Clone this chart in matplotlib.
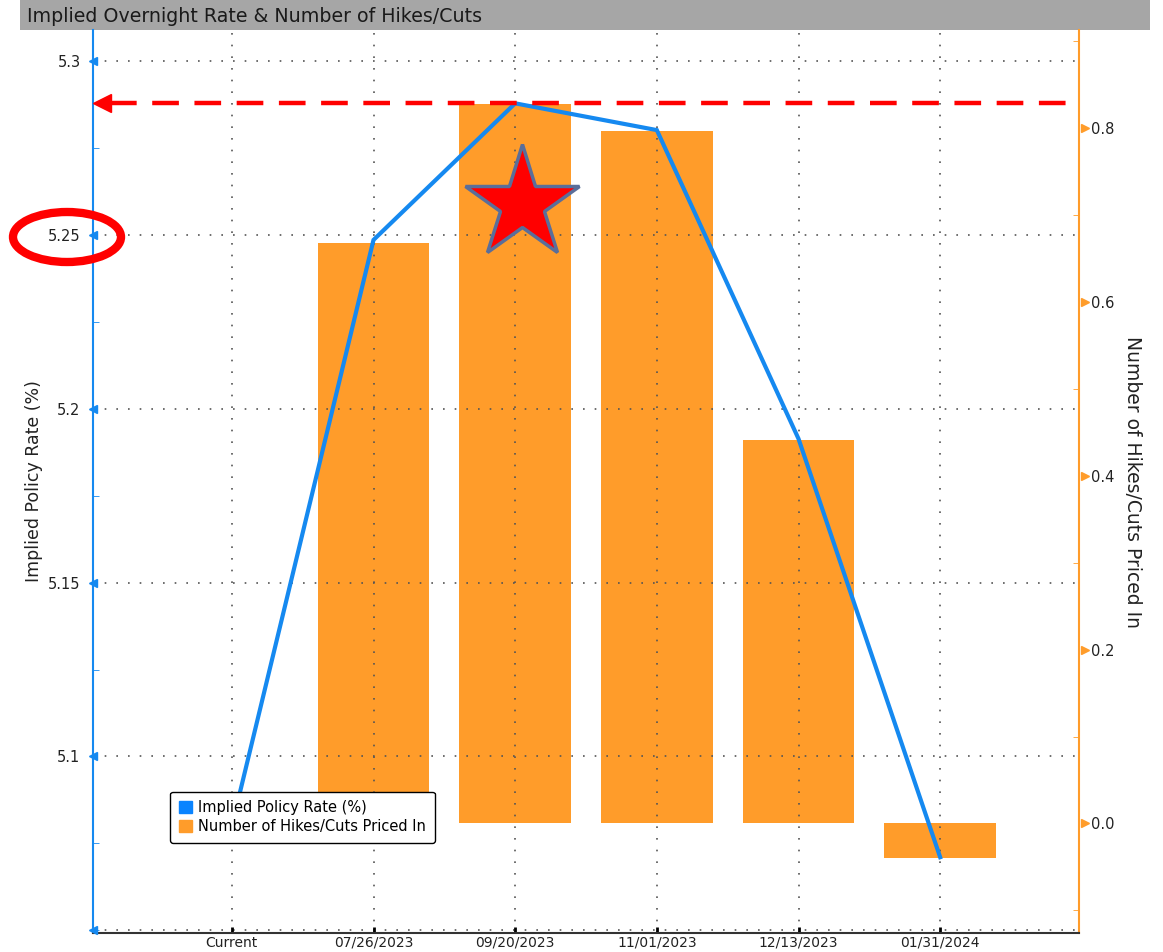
import matplotlib
matplotlib.use("Agg")
import matplotlib.pyplot as plt
from matplotlib.patches import Patch, Ellipse, Rectangle
import numpy as np

categories = ["Current", "07/26/2023", "09/20/2023", "11/01/2023", "12/13/2023", "01/31/2024"]
implied_rate = [5.080, 5.2486, 5.2879, 5.2802, 5.1914, 5.071]
hikes_cuts = [0.0, 0.668, 0.828, 0.797, 0.441, -0.040]
left_ticks = [5.1, 5.15, 5.2, 5.25, 5.3]
right_ticks = [0.0, 0.2, 0.4, 0.6, 0.8]
title = "Implied Overnight Rate & Number of Hikes/Cuts"
left_label = "Implied Policy Rate (%)"
right_label = "Number of Hikes/Cuts Priced In"
peak_level = 5.288

BLUE = "#1589F0"
ORANGE = "#FF9C2A"
W, H = 1163, 952

plt.rcParams['font.family'] = ['DejaVu Sans']
fig = plt.figure(figsize=(W / 100, H / 100), dpi=100)
fig.patch.set_facecolor("white")

l, r, b, t = 93 / W, 1079 / W, 1 - 933 / H, 1 - 30 / H
ax = fig.add_axes([l, b, r - l, t - b])
ax2 = ax.twinx()

x = np.arange(len(categories))
ax.set_xlim(-0.98, 5.98)
ax.set_ylim(5.0492, 5.309)
ax2.set_ylim(-0.126, 0.9126)

# bars on right axis
bar_x = x[1:]
ax2.bar(bar_x, hikes_cuts[1:], width=0.79, color=ORANGE, zorder=2)
ax2.set_zorder(1)
ax.set_zorder(2)
ax.patch.set_visible(False)

# line on left axis
ax.plot(x, implied_rate, color=BLUE, lw=3, zorder=5, solid_joinstyle='miter')

# grid
for xi in x:
    ax.axvline(xi, color="#555555", lw=1.2, ls=(0, (1, 6)), zorder=0)
for yv in left_ticks + [5.05]:
    ax.axhline(yv, color="#555555", lw=1.2, ls=(0, (1, 6)), zorder=0)

# ticks left
ax.set_yticks(left_ticks)
ax.set_yticklabels([f"{v:g}" for v in left_ticks], fontsize=10.5, color="#222222")
ax.set_yticks(np.arange(5.05, 5.31, 0.025), minor=True)
ax.tick_params(axis='y', which='major', length=0, pad=9)
ax.tick_params(axis='y', which='minor', length=4, color=BLUE, direction='in')
ax.plot(np.full(len(left_ticks) + 1, -0.98), left_ticks + [5.05], marker='<', ms=6,
        color=BLUE, ls='none', clip_on=False, zorder=6)

# ticks right
ax2.set_yticks(right_ticks)
ax2.set_yticklabels([f"{v:.1f}" for v in right_ticks], fontsize=10.5, color="#222222")
ax2.set_yticks(np.arange(-0.1, 0.95, 0.1), minor=True)
ax2.tick_params(axis='y', which='major', length=0, pad=9)
ax2.tick_params(axis='y', which='minor', length=4, color=ORANGE, direction='in')
ax2.plot(np.full(len(right_ticks), 6.02), right_ticks, marker='>', ms=6, color=ORANGE,
         ls='none', clip_on=False, zorder=6, transform=ax2.transData)

# x ticks
ax.set_xticks(x)
ax.set_xticklabels(categories, fontsize=10, color="#222222")
ax.tick_params(axis='x', length=4, direction='in', color='black', width=2, pad=2)
ax2.tick_params(axis='x', length=0)

# spines
for a in (ax, ax2):
    a.spines['top'].set_visible(False)
ax.spines['left'].set_color(BLUE)
ax.spines['left'].set_linewidth(1.5)
ax.spines['right'].set_visible(False)
ax2.spines['left'].set_visible(False)
ax2.spines['right'].set_color(ORANGE)
ax2.spines['right'].set_linewidth(1.5)
ax.spines['bottom'].set_color("#333333")
ax.spines['bottom'].set_linewidth(1.5)
ax2.spines['bottom'].set_visible(False)

ax.set_ylabel(left_label, fontsize=12.5, color="#222222")
ax.yaxis.set_label_coords(-50 / 986, 0.50)
ax2.set_ylabel(right_label, fontsize=13.5, color="#222222", rotation=-90)
ax2.yaxis.set_label_coords(1 + 63 / 986, 0.50)

# red dashed peak line with arrow head
ax.plot([-0.86, 5.95], [peak_level, peak_level], color="red", lw=3.2,
        ls=(0, (6, 3.5)), zorder=7, clip_on=False)
ax.plot([-0.915], [peak_level], marker='<', ms=13, color='red', ls='none', zorder=7,
        clip_on=False)

# star
ax.plot([2.05], [5.259], marker='*', ms=86, color='red', mec='#5a6e9a', mew=2.5,
        zorder=8, ls='none')

# legend
handles = [Patch(color="#0A84FF", label="Implied Policy Rate (%)"),
           Patch(color=ORANGE, label="Number of Hikes/Cuts Priced In")]
leg = ax.legend(handles=handles, loc='lower left',
                bbox_to_anchor=((163 - 93) / 986, (933 - 850) / 903),
                fontsize=10.5, frameon=True, fancybox=True, edgecolor='black',
                handlelength=0.9, handleheight=0.9, handletextpad=0.4,
                borderpad=0.6, labelspacing=0.25, framealpha=1)
leg.get_frame().set_linewidth(1.0)
leg.set_zorder(10)

# title bar
fig.patches.append(Rectangle((20 / W, 1 - 30 / H), 1130 / W, 30 / H,
                             transform=fig.transFigure, facecolor="#a6a6a6",
                             edgecolor='none', zorder=0))
fig.text(27 / W, 1 - 16 / H, title, fontsize=13.7, color="#1a1a1a", va='center',
         ha='left')

# red ellipse around 5.25 label
fig.patches.append(Ellipse((67 / W, 1 - 237 / H), 108 / W, 50 / H,
                           transform=fig.transFigure, facecolor='none',
                           edgecolor='red', lw=6, zorder=20))

fig.savefig("out.png", dpi=100)
